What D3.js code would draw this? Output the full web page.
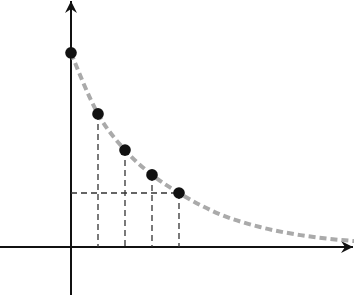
<!DOCTYPE html>
<html>
<head>
<meta charset="utf-8">
<script src="https://cdn.jsdelivr.net/npm/d3@7"></script>
<style>
  html, body { margin: 0; padding: 0; background: #fff; }
  svg { display: block; }
</style>
</head>
<body>
<div id="chart"></div>
<script>
// Sample points (x in steps, y value)
var pointX = [0, 1, 2, 3, 4];
var pointY = [7.19, 4.93, 3.59, 2.67, 2.0];

// Points
var curveX = [0, 1, 2, 3, 4, 5.5, 7, 8.5, 10, 10.5];
var curveY = [7.19, 4.93, 3.59, 2.67, 2.0, 1.22, 0.74, 0.44, 0.26, 0.22];

var width = 354;
var height = 295;

// Origin of the axes
var originX = 71;
var originY = 247;
var unit = 27;

var svg = d3
  .select("#chart")
  .append("svg")
  .attr("width", width)
  .attr("height", height);

var xScale = d3.scaleLinear().domain([0, 10]).range([originX, originX + 10 * unit]);
var yScale = d3.scaleLinear().domain([0, 8]).range([originY, originY - 8 * unit]);

// Arrow head marker
var defs = svg.append("defs");
defs
  .append("marker")
  .attr("id", "arrow")
  .attr("viewBox", "-13 -7 14 14")
  .attr("refX", 0)
  .attr("refY", 0)
  .attr("markerWidth", 14)
  .attr("markerHeight", 14)
  .attr("markerUnits", "userSpaceOnUse")
  .attr("orient", "auto")
  .append("path")
  .attr("d", "M0,0 L-12,-6 L-8,0 L-12,6 Z")
  .attr("fill", "#111");

// Axes
svg
  .append("line")
  .attr("x1", 0)
  .attr("y1", originY)
  .attr("x2", width - 1)
  .attr("y2", originY)
  .attr("stroke", "#111")
  .attr("stroke-width", 2)
  .attr("marker-end", "url(#arrow)");

svg
  .append("line")
  .attr("x1", originX)
  .attr("y1", height)
  .attr("x2", originX)
  .attr("y2", 1)
  .attr("stroke", "#111")
  .attr("stroke-width", 2)
  .attr("marker-end", "url(#arrow)");

var pts = pointX.map(function(d, i) {
  return { x: d, y: pointY[i] };
});

// Dashed drop lines to the x axis
svg
  .selectAll(".drop")
  .data(pts.slice(1))
  .enter()
  .append("line")
  .attr("class", "drop")
  .attr("x1", function(d) { return xScale(d.x); })
  .attr("x2", function(d) { return xScale(d.x); })
  .attr("y1", function(d) { return yScale(d.y); })
  .attr("y2", yScale(0))
  .attr("stroke", "#333")
  .attr("stroke-width", 1.3)
  .attr("stroke-dasharray", "6,4");

// Dashed line from last point to the y axis
var last = pts[pts.length - 1];
svg
  .append("line")
  .attr("x1", xScale(0))
  .attr("x2", xScale(last.x))
  .attr("y1", yScale(last.y))
  .attr("y2", yScale(last.y))
  .attr("stroke", "#333")
  .attr("stroke-width", 1.3)
  .attr("stroke-dasharray", "6,4");

// Fitted curve
var curvePts = curveX.map(function(d, i) {
  return { x: d, y: curveY[i] };
});
var line = d3
  .line()
  .x(function(d) { return xScale(d.x); })
  .y(function(d) { return yScale(d.y); })
  .curve(d3.curveMonotoneX);

svg
  .append("path")
  .datum(curvePts)
  .attr("d", line)
  .attr("fill", "none")
  .attr("stroke", "#aaa")
  .attr("stroke-width", 4)
  .attr("stroke-dasharray", "7,4");

// Sample dots
svg
  .selectAll(".dot")
  .data(pts)
  .enter()
  .append("circle")
  .attr("class", "dot")
  .attr("cx", function(d) { return xScale(d.x); })
  .attr("cy", function(d) { return yScale(d.y); })
  .attr("r", 5.8)
  .attr("fill", "#111");
</script>
</body>
</html>
